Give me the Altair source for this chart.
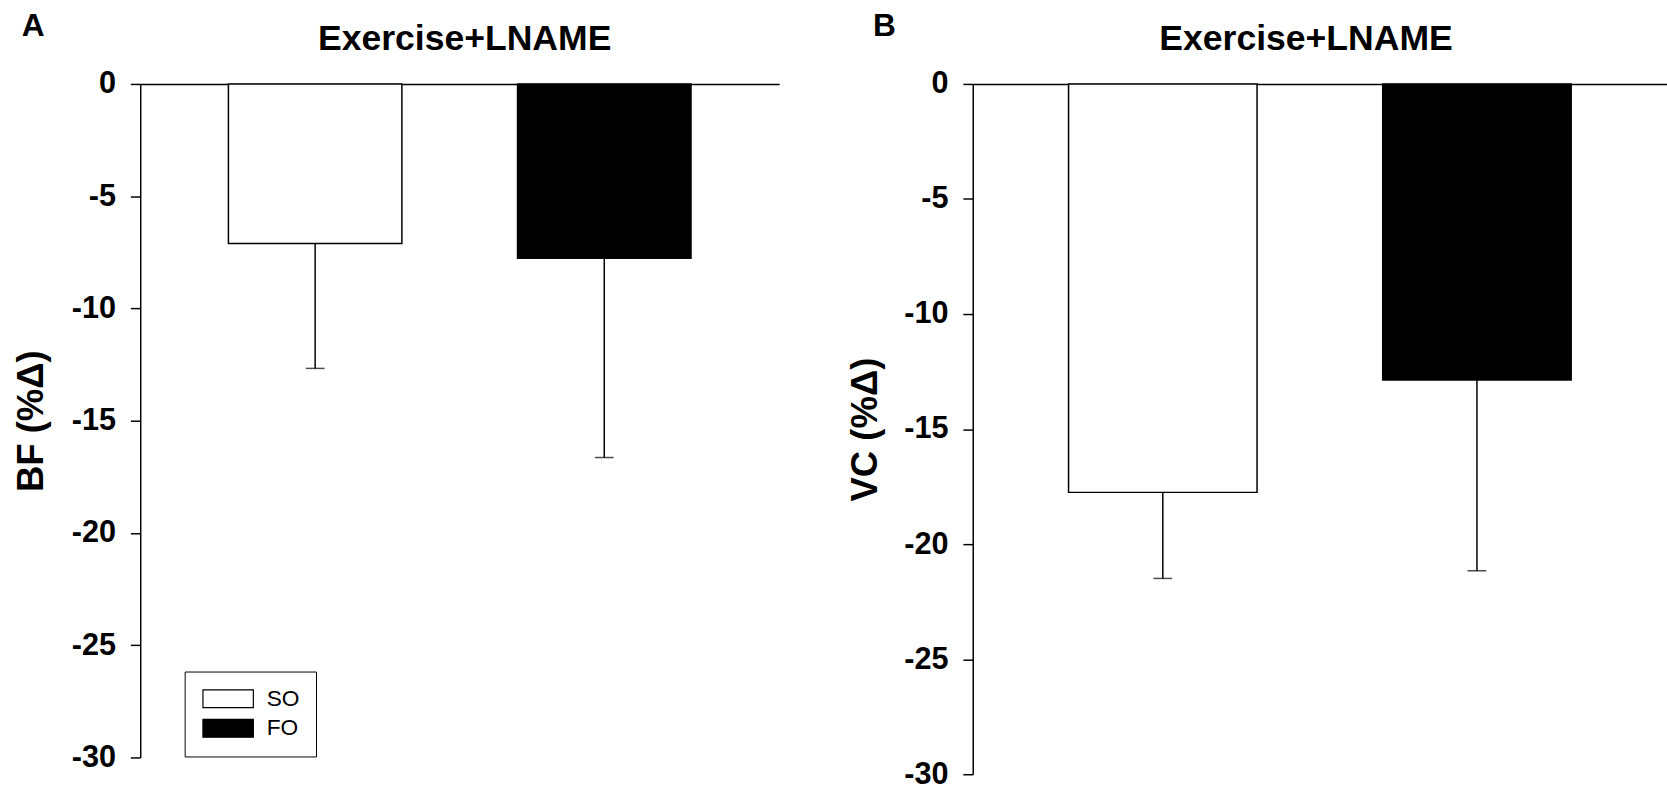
import altair as alt
import pandas as pd

groups = ["SO", "FO"]
bf_mean = [-7.11, -7.76]
bf_sem = [5.56, 8.88]
vc_mean = [-17.75, -12.87]
vc_sem = [3.74, 8.29]
panel_labels = ["A", "B"]
panel_titles = ["Exercise+LNAME", "Exercise+LNAME"]
y_titles = ["BF (%Δ)", "VC (%Δ)"]
y_ticks = [0, -5, -10, -15, -20, -25, -30]
fill_colors = ["white", "black"]

FONT = "Liberation Sans"


def panel(label, title, ytitle, mean, sem, w, h, title_dx, legend, title_x, label_x):
    df = pd.DataFrame({
        "group": groups,
        "mean": mean,
        "low": [m - s for m, s in zip(mean, sem)],
    })
    xenc = alt.X(
        "group:N", sort=groups,
        scale=alt.Scale(paddingInner=0.4, paddingOuter=0.305),
        axis=alt.Axis(orient="top", labels=False, ticks=False, title=None,
                      domainColor="black", domainWidth=1.5),
    )
    yscale = alt.Scale(domain=[-30, 0], nice=False, zero=True)
    yaxis = alt.Axis(values=y_ticks, title=ytitle, titleX=title_x,
                     labelExpr="datum.value == 0 ? '0' : '-' + abs(datum.value)",
                     titleFont=FONT, titleFontSize=37, titleFontWeight="bold",
                     titleColor="black",
                     labelFont=FONT, labelFontSize=31, labelFontWeight="bold",
                     labelColor="black", labelPadding=15,
                     tickSize=10, tickColor="black", tickWidth=1.5,
                     domainColor="black", domainWidth=1.5, grid=False)
    base = alt.Chart(df)
    bars = base.mark_bar(stroke="black", strokeWidth=1.5).encode(
        x=xenc,
        y=alt.Y("mean:Q", scale=yscale, axis=yaxis),
        fill=alt.Fill("group:N", sort=groups,
                      scale=alt.Scale(domain=groups, range=fill_colors),
                      legend=legend),
    )
    rules = base.mark_rule(color="black", strokeWidth=1.5).encode(
        x=alt.X("group:N", sort=groups),
        y="mean:Q",
        y2="low:Q",
    )
    caps = base.mark_tick(color="black", thickness=1.5, size=19).encode(
        x=alt.X("group:N", sort=groups),
        y="low:Q",
    )
    lab = alt.Chart(pd.DataFrame({"t": [label]})).mark_text(
        align="left", baseline="alphabetic", font=FONT, fontSize=32,
        fontWeight="bold", color="black",
    ).encode(text="t:N", x=alt.value(label_x), y=alt.value(-48.5))
    ttl = alt.Chart(pd.DataFrame({"t": [title]})).mark_text(
        align="center", baseline="alphabetic", font=FONT, fontSize=36,
        fontWeight="bold", color="black",
    ).encode(text="t:N", x=alt.value(w / 2 + title_dx), y=alt.value(-34))
    return alt.layer(bars, rules, caps, lab, ttl).properties(width=w, height=h)


legend_a = alt.Legend(
    title=None, orient="none", legendX=45, legendY=595,
    symbolType="M-1,-1L4.67,-1L4.67,1L-1,1Z", symbolSize=324,
    symbolStrokeColor="black", symbolStrokeWidth=1.2,
    labelFont=FONT, labelFontSize=23, labelColor="black", labelOffset=44,
    strokeColor="black", padding=16, rowPadding=6, cornerRadius=0,
    fillColor="white",
)

pa = panel(panel_labels[0], panel_titles[0], y_titles[0], bf_mean, bf_sem,
           647, 682, 5, legend_a, -91, -120)
pb = panel(panel_labels[1], panel_titles[1], y_titles[1], vc_mean, vc_sem,
           703, 699, -14, None, -89, -101)

chart = alt.hconcat(pa, pb, spacing=69).resolve_scale(
    fill="independent", x="independent", y="independent"
).properties(
    padding={"left": 13, "top": 5, "right": 0, "bottom": 0}
).configure_view(stroke=None)

chart.save("out.html", embed_options={"renderer": "svg", "actions": False})
